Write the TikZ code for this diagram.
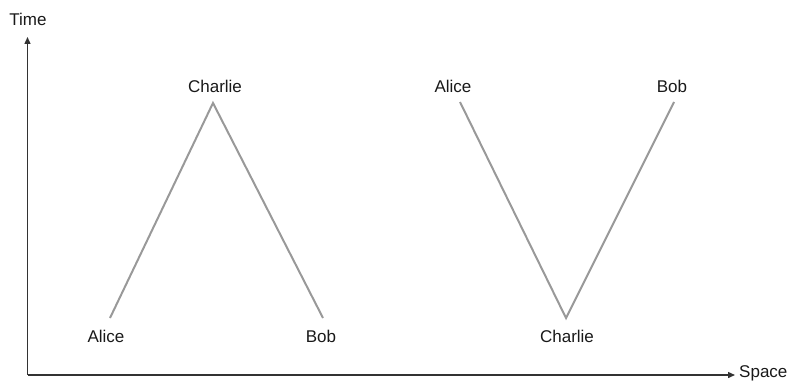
\documentclass[tikz,border=0pt]{standalone}
\usepackage{fontspec}
\setmainfont{Liberation Sans}
\usetikzlibrary{arrows.meta}
\begin{document}
\begin{tikzpicture}[x=1pt,y=-1pt,
  lbl/.style={font=\fontsize{17}{19}\selectfont, text=black!90, inner sep=0pt},
  axis/.style={draw=black!80, line width=1.4pt, -{Triangle[length=7pt,width=6pt]}},
  world/.style={draw=black!40, line width=2pt}]
\useasboundingbox (0,0) rectangle (792,382);
% axes
\coordinate (O) at (27.5,375);
\coordinate (T) at (27.5,37);
\coordinate (S) at (735,375);
\draw[axis] (O) -- (T);
\draw[axis] (O) -- (S);
\node[lbl] (time) at (28,19) {Time};
\node[lbl, anchor=west] (space) at (739,373) {Space};
% left diagram
\coordinate (la) at (110,318);
\coordinate (lc) at (213,103);
\coordinate (lb) at (323,318);
\draw[world] (la) -- (lc) -- (lb);
\node[lbl] (alice1) at (106,336) {Alice};
\node[lbl] (charlie1) at (215,86) {Charlie};
\node[lbl] (bob1) at (321,336) {Bob};
% right diagram
\coordinate (ra) at (460,102);
\coordinate (rc) at (566,318);
\coordinate (rb) at (674,102);
\draw[world] (ra) -- (rc) -- (rb);
\node[lbl] (alice2) at (453,86) {Alice};
\node[lbl] (charlie2) at (567,336) {Charlie};
\node[lbl] (bob2) at (672,86) {Bob};
\end{tikzpicture}
\end{document}
